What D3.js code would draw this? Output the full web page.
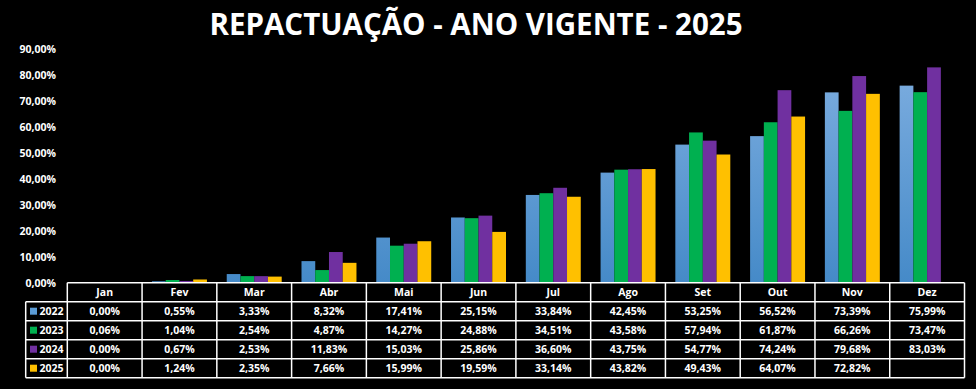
<!DOCTYPE html>
<html>
<head>
<meta charset="utf-8">
<script src="https://cdn.jsdelivr.net/npm/d3@7"></script>
<style>
	body { margin: 0; background: #000; }
	svg text { font-family: "Open Sans", sans-serif; font-weight: bold; fill: #fff; }
</style>
</head>
<body>
<svg id="chart" width="976" height="389"></svg>
<script>
// dados da tabela (percentual acumulado por mês)
var months = ["Jan", "Fev", "Mar", "Abr", "Mai", "Jun", "Jul", "Ago", "Set", "Out", "Nov", "Dez"];
var years = ["2022", "2023", "2024", "2025"];
var s2022 = [0.00, 0.55, 3.33, 8.32, 17.41, 25.15, 33.84, 42.45, 53.25, 56.52, 73.39, 75.99];
var s2023 = [0.06, 1.04, 2.54, 4.87, 14.27, 24.88, 34.51, 43.58, 57.94, 61.87, 66.26, 73.47];
var s2024 = [0.00, 0.67, 2.53, 11.83, 15.03, 25.86, 36.60, 43.75, 54.77, 74.24, 79.68, 83.03];
var s2025 = [0.00, 1.24, 2.35, 7.66, 15.99, 19.59, 33.14, 43.82, 49.43, 64.07, 72.82, null];
var yTicks = [0, 10, 20, 30, 40, 50, 60, 70, 80, 90];

(function () {

	var series = [s2022, s2023, s2024, s2025];
	var colors = ["url(#blueGrad)", "#00b050", "#7030a0", "#ffc000"];
	var legendColors = ["#5b9bd5", "#00b050", "#7030a0", "#ffc000"];

	var svg = d3.select("#chart");

	svg.append("rect").attr("width", 976).attr("height", 389).attr("fill", "#000");

	// gradiente da série 2022
	var grad = svg.append("defs").append("linearGradient")
		.attr("id", "blueGrad")
		.attr("gradientUnits", "userSpaceOnUse")
		.attr("x1", 0).attr("y1", 60).attr("x2", 0).attr("y2", 283);
	grad.append("stop").attr("offset", "0%").attr("stop-color", "#7eaee0");
	grad.append("stop").attr("offset", "100%").attr("stop-color", "#458ac8");

	var fmt = function (v) {
		return v == null ? "" : v.toFixed(2).replace(".", ",") + "%";
	};

	// titulo
	svg.append("text")
		.attr("x", 476).attr("y", 35)
		.attr("text-anchor", "middle")
		.style("font-size", "29.5px")
		.text("REPACTUAÇÃO - ANO VIGENTE - 2025");

	var plotLeft = 67.3, plotRight = 964.5, plotTop = 49.3, base = 282.7;

	var x = d3.scaleBand().domain(months).range([plotLeft, plotRight]).padding(0);
	var x1 = d3.scaleBand().domain(years).range([9.9, x.bandwidth() - 9.9]).padding(0);
	var y = d3.scaleLinear().domain([0, 90]).range([base, plotTop]);

	// eixo y (só rótulos)
	var yAxis = svg.append("g")
		.attr("transform", "translate(56,0)")
		.call(d3.axisLeft(y).tickValues(yTicks).tickSize(0).tickPadding(0)
			.tickFormat(function (d) { return d.toFixed(2).replace(".", ",") + "%"; }));
	yAxis.select(".domain").remove();
	yAxis.selectAll("text")
		.attr("fill", "#fff")
		.style("font-size", "10.5px")
		.style("font-family", "'Open Sans', sans-serif")
		.style("font-weight", "bold");

	// barras
	var groups = svg.append("g").selectAll("g")
		.data(months)
		.enter().append("g")
		.attr("transform", function (d) { return "translate(" + x(d) + ",0)"; });

	groups.selectAll("rect")
		.data(function (m, i) {
			return years.map(function (yr, k) { return { year: yr, k: k, value: series[k][i] }; })
				.filter(function (d) { return d.value != null; });
		})
		.enter().append("rect")
		.attr("x", function (d) { return x1(d.year); })
		.attr("width", x1.bandwidth())
		.attr("y", function (d) { return y(d.value); })
		.attr("height", function (d) { return base - y(d.value); })
		.attr("fill", function (d) { return colors[d.k]; });

	// tabela de dados
	var rowH = 19, legLeft = 25.7;
	var table = svg.append("g");

	// cabeçalho
	table.selectAll("text.head")
		.data(months)
		.enter().append("text")
		.attr("class", "head")
		.attr("x", function (d) { return x(d) + x.bandwidth() / 2; })
		.attr("y", base + rowH / 2 + 4)
		.attr("text-anchor", "middle")
		.style("font-size", "10.5px")
		.text(function (d) { return d; });

	years.forEach(function (yr, k) {
		var ry = base + rowH * (k + 1);
		table.append("rect")
			.attr("x", 30).attr("y", ry + rowH / 2 - 3.5)
			.attr("width", 7).attr("height", 7)
			.attr("fill", legendColors[k]);
		table.append("text")
			.attr("x", 39.5).attr("y", ry + rowH / 2 + 4)
			.style("font-size", "10.5px")
			.text(yr);
		table.selectAll("text.v" + yr)
			.data(series[k])
			.enter().append("text")
			.attr("class", "v" + yr)
			.attr("x", function (d, i) { return x(months[i]) + x.bandwidth() / 2; })
			.attr("y", ry + rowH / 2 + 4)
			.attr("text-anchor", "middle")
			.style("font-size", "10.5px")
			.text(fmt);
	});

	// linhas da tabela
	var lines = table.append("g").attr("stroke", "#fff").attr("stroke-width", 1.5);
	var bottom = base + rowH * 5;
	// horizontais
	lines.append("line").attr("x1", plotLeft).attr("x2", plotRight).attr("y1", base).attr("y2", base);
	for (var r = 1; r <= 5; r++) {
		lines.append("line").attr("x1", legLeft).attr("x2", plotRight)
			.attr("y1", base + rowH * r).attr("y2", base + rowH * r);
	}
	// verticais
	lines.append("line").attr("x1", legLeft).attr("x2", legLeft).attr("y1", base + rowH).attr("y2", bottom);
	months.forEach(function (m) {
		lines.append("line").attr("x1", x(m)).attr("x2", x(m)).attr("y1", base).attr("y2", bottom);
	});
	lines.append("line").attr("x1", plotRight).attr("x2", plotRight).attr("y1", base).attr("y2", bottom);

})();
</script>
</body>
</html>
